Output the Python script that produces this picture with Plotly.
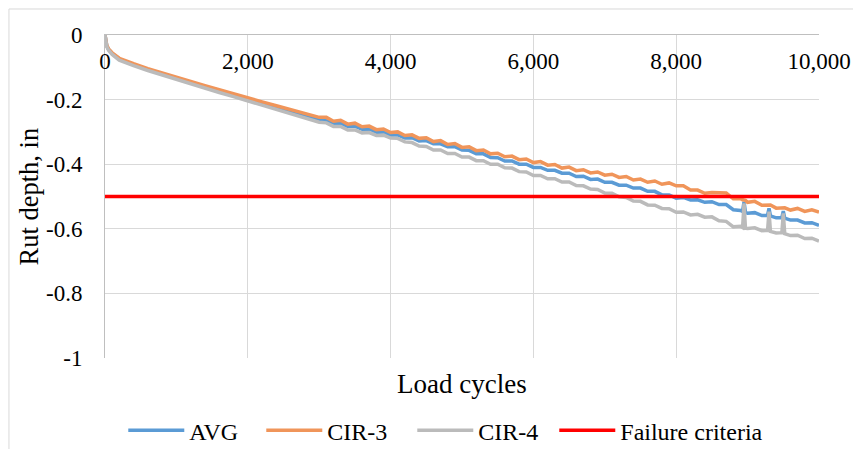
import plotly.graph_objects as go

# ---------------- data ----------------
cycles = [0, 10, 25, 50, 100, 200, 300, 400, 600, 800, 1000, 1200, 1400, 1600, 1800, 2000, 2200, 2400, 2600, 2800, 3000,
          3100, 3200, 3300, 3400, 3500, 3600, 3700, 3800, 3900, 4000,
          4100, 4200, 4300, 4400, 4500, 4600, 4700, 4800, 4900, 5000,
          5100, 5200, 5300, 5400, 5500, 5600, 5700, 5800, 5900, 6000,
          6100, 6200, 6300, 6400, 6500, 6600, 6700, 6800, 6900, 7000,
          7100, 7200, 7300, 7400, 7500, 7600, 7700, 7800, 7900, 8000,
          8100, 8200, 8300, 8400, 8500, 8600, 8700, 8800, 8900,
          8930, 8950, 8970, 9000, 9100, 9200, 9280, 9300, 9320, 9400, 9480, 9500, 9520, 9600, 9700, 9800, 9900, 10000]

avg = [0, -0.020, -0.034, -0.045, -0.057, -0.075, -0.084, -0.092, -0.107, -0.121, -0.134, -0.148, -0.161, -0.174, -0.187, -0.200, -0.212, -0.224, -0.236, -0.249, -0.262,
       -0.264, -0.273, -0.273, -0.283, -0.282, -0.292, -0.291, -0.301, -0.300, -0.310,
       -0.309, -0.319, -0.318, -0.328, -0.327, -0.337, -0.337, -0.346, -0.346, -0.356,
       -0.357, -0.368, -0.368, -0.379, -0.380, -0.390, -0.390, -0.400, -0.400, -0.410,
       -0.410, -0.419, -0.419, -0.428, -0.428, -0.438, -0.437, -0.447, -0.446, -0.456,
       -0.456, -0.465, -0.465, -0.474, -0.474, -0.484, -0.484, -0.495, -0.495, -0.505,
       -0.503, -0.511, -0.510, -0.518, -0.516, -0.525, -0.525, -0.541, -0.543,
       -0.546, -0.516, -0.549, -0.552, -0.550, -0.559, -0.558, -0.537, -0.560, -0.566, -0.565, -0.545, -0.567, -0.573, -0.573, -0.582, -0.581, -0.589]

cir3 = [0, -0.019, -0.032, -0.043, -0.055, -0.072, -0.081, -0.089, -0.104, -0.118, -0.131, -0.144, -0.157, -0.170, -0.183, -0.196, -0.207, -0.219, -0.231, -0.243, -0.255,
        -0.255, -0.267, -0.264, -0.276, -0.273, -0.284, -0.282, -0.293, -0.291, -0.302,
        -0.300, -0.311, -0.309, -0.320, -0.318, -0.330, -0.327, -0.339, -0.336, -0.348,
        -0.346, -0.358, -0.356, -0.368, -0.366, -0.377, -0.375, -0.386, -0.384, -0.395,
        -0.392, -0.403, -0.401, -0.412, -0.409, -0.420, -0.417, -0.427, -0.424, -0.434,
        -0.431, -0.441, -0.438, -0.449, -0.446, -0.456, -0.452, -0.462, -0.458, -0.467,
        -0.467, -0.480, -0.480, -0.490, -0.488, -0.489, -0.489, -0.507, -0.507,
        -0.510, -0.510, -0.512, -0.518, -0.515, -0.527, -0.525, -0.524, -0.526, -0.536, -0.534, -0.533, -0.535, -0.542, -0.537, -0.546, -0.541, -0.548]

cir4 = [0, -0.021, -0.036, -0.047, -0.060, -0.078, -0.087, -0.095, -0.110, -0.124, -0.137, -0.151, -0.164, -0.178, -0.191, -0.204, -0.216, -0.229, -0.242, -0.256, -0.270,
        -0.272, -0.283, -0.283, -0.294, -0.294, -0.303, -0.302, -0.311, -0.310, -0.319,
        -0.320, -0.331, -0.333, -0.344, -0.345, -0.356, -0.356, -0.367, -0.367, -0.378,
        -0.378, -0.389, -0.389, -0.400, -0.400, -0.411, -0.412, -0.423, -0.424, -0.435,
        -0.435, -0.445, -0.445, -0.455, -0.455, -0.466, -0.467, -0.477, -0.478, -0.489,
        -0.490, -0.501, -0.503, -0.514, -0.515, -0.526, -0.527, -0.537, -0.538, -0.549,
        -0.548, -0.557, -0.555, -0.564, -0.563, -0.575, -0.577, -0.594, -0.592,
        -0.596, -0.521, -0.598, -0.599, -0.597, -0.606, -0.605, -0.547, -0.608, -0.613, -0.612, -0.552, -0.615, -0.621, -0.620, -0.630, -0.629, -0.638]

failure_x = [0, 10000]
failure_y = [-0.5, -0.5]

series_names = ["AVG", "CIR-3", "CIR-4", "Failure criteria"]

x_tick_vals = [0, 2000, 4000, 6000, 8000, 10000]
x_tick_text = ["0", "2,000", "4,000", "6,000", "8,000", "10,000"]
y_tick_vals = [0, -0.2, -0.4, -0.6, -0.8, -1]
y_tick_text = ["0", "-0.2", "-0.4", "-0.6", "-0.8", "-1"]

# ---------------- figure ----------------
FONT = "Liberation Serif"
colors = ["#5B9BD5", "#F0955A", "#BBBBBB", "#FF0000"]
legend_widths = [67, 80, 71, 150]

fig = go.Figure()
for name, ys, col, lw in zip(series_names[:3], [avg, cir3, cir4], colors[:3], legend_widths[:3]):
    fig.add_trace(go.Scatter(x=cycles, y=ys, mode="lines", name=name,
                             line=dict(color=col, width=3.5), legendwidth=lw))
fig.add_trace(go.Scatter(x=failure_x, y=failure_y, mode="lines", name=series_names[3],
                         line=dict(color=colors[3], width=3.5), legendwidth=legend_widths[3]))

fig.update_layout(
    width=853, height=449,
    margin=dict(l=105, r=34, t=35, b=91, autoexpand=False),
    paper_bgcolor="white", plot_bgcolor="white",
    font=dict(family=FONT, color="black", size=23),
    showlegend=True,
    legend=dict(orientation="h", x=0.0256, xanchor="left", y=-0.225, yanchor="middle",
                font=dict(size=24, family=FONT, color="black"), bgcolor="rgba(0,0,0,0)",
                itemwidth=56),
    xaxis=dict(range=[0, 10000], side="top", tickvals=x_tick_vals, ticktext=x_tick_text,
               ticklabelposition="inside", ticklabeloverflow="allow", ticklabelstandoff=20,
               showgrid=True, gridcolor="#D9D9D9", gridwidth=1,
               showline=True, linecolor="#BFBFBF", linewidth=1, zeroline=False,
               ticks="", tickfont=dict(size=23, family=FONT, color="black"), automargin=False),
    yaxis=dict(range=[-1, 0], tickvals=y_tick_vals, ticktext=y_tick_text,
               showgrid=True, gridcolor="#D9D9D9", gridwidth=1,
               showline=True, linecolor="#BFBFBF", linewidth=1, zeroline=False,
               ticks="", ticklabelstandoff=17, tickfont=dict(size=23, family=FONT, color="black"),
               automargin=False),
    annotations=[
        dict(text="Load cycles", x=0.5, y=-0.08, xref="paper", yref="paper",
             xanchor="center", yanchor="middle", showarrow=False,
             font=dict(size=27, family=FONT, color="black")),
        dict(text="Rut depth, in", x=-0.1065, y=0.5, xref="paper", yref="paper",
             xanchor="center", yanchor="middle", textangle=-90, showarrow=False,
             font=dict(size=26.5, family=FONT, color="black")),
    ],
    shapes=[
        dict(type="rect", xref="paper", yref="paper", x0=-0.1345, x1=1.2, y0=-0.5, y1=1.0805,
             line=dict(color="#D9D9D9", width=1), fillcolor="rgba(0,0,0,0)", layer="below"),
    ],
)

fig.write_html("out.html")
